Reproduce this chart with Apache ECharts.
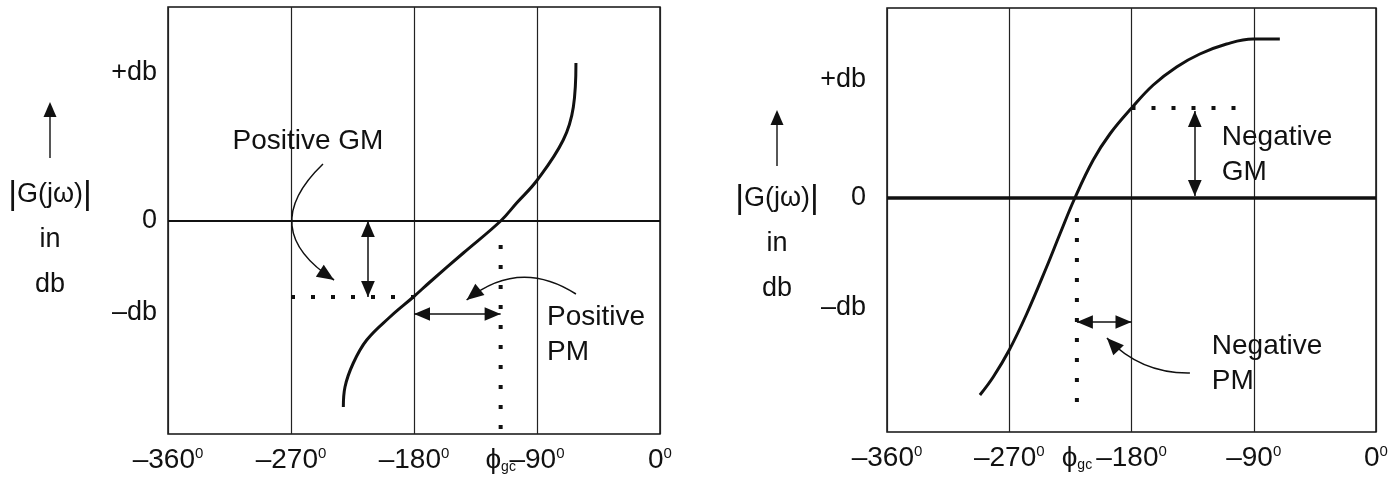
<!DOCTYPE html>
<html>
<head>
<meta charset="utf-8">
<title>Gain margin and phase margin on gain-phase plots</title>
<script src="https://cdn.jsdelivr.net/npm/echarts@6/dist/echarts.min.js"></script>
<style>
  html, body { margin: 0; padding: 0; background: #fff; }
  #chart { width: 1399px; height: 477px; }
</style>
</head>
<body>
<div id="chart"></div>
<script>
// phase axis (degrees), shared by both plots
const phaseTicks = [-360, -270, -180, -90, 0]

// left plot: stable system, positive GM and positive PM
const leftPhase = [-231.7, -230.5, -224.4, -214.6, -197.6, -180.5, -168.3, -143.9, -116.6, -104.9, -89.8, -70.8, -63.4, -61.5]
const leftMag = [-18.6, -16.6, -14.2, -11.9, -9.6, -7.6, -6.1, -3.2, 0, 1.8, 4.1, 8.1, 11.4, 15.8]
const leftPhiGc = -116.6
const leftDbLevels = [-9.2, 0, 14.8]
const leftGmDots = [[-270, -7.6], [-180, -7.6]]
const leftPmDots = [[leftPhiGc, -2.4], [leftPhiGc, -21.3]]
const leftGmArrow = [[-213.7, 0], [-213.7, -7.6]]
const leftPmArrow = [[-180, -9.3], [leftPhiGc, -9.3]]
const leftGmPointer = [[-246.6, 5.7], [-238.5, -5.9]]
const leftPmPointer = [[-61.5, -7.3], [-141.5, -7.9]]
const leftNotes = ['Positive GM', 'Positive\nPM']
const leftNoteAt = [[-257.6, 8.0], [-82.7, -11.4]]

// right plot: unstable system, negative GM and negative PM
const rightPhase = [-291.6, -281.8, -270, -257.2, -242.5, -232.7, -221.7, -208.2, -195.9, -179.9, -164.0, -146.8, -129.7, -110.0, -90.5, -70.8]
const rightMag = [-19.7, -17.9, -15.2, -11.6, -6.9, -3.6, 0, 3.8, 6.4, 9.0, 11.3, 13.1, 14.4, 15.4, 15.9, 15.9]
const rightPhiGc = -220.2
const rightDbLevels = [-11.0, 0, 11.8]
const rightGmDots = [[-180, 9.0], [-102.5, 9.0]]
const rightPmDots = [[rightPhiGc, -2.0], [rightPhiGc, -20.5]]
const rightGmArrow = [[-133.4, 8.7], [-133.4, 0.2]]
const rightPmArrow = [[rightPhiGc, -12.4], [-180, -12.4]]
const rightPmPointer = [[-137.0, -17.5], [-198.1, -14.0]]
const rightNotes = ['Negative\nGM', 'Negative\nPM']
const rightNoteAt = [[-113.5, 4.3], [-120.9, -16.6]]

const INK = '#111'
const FONT = '"Liberation Sans", Arial, Helvetica, sans-serif'

// filled arrow head whose tip sits at the centre of its box,
// so the tip lands exactly on the end point of the line
const HEAD = 'path://M0,0 M28,28 M14,14 L20,28 L8,28 Z'

const arrowSvg = "<svg xmlns='http://www.w3.org/2000/svg' width='14' height='56'>" +
  "<polygon points='7,0 0.5,15 13.5,15' fill='#111'/>" +
  "<rect x='6.3' y='12' width='1.4' height='44' fill='#111'/></svg>"
const arrowImg = 'data:image/svg+xml;charset=utf-8,' + encodeURIComponent(arrowSvg)

function zip(xs, ys) {
  return xs.map((x, i) => [x, ys[i]])
}

function phaseAxis(gridIndex, phiGc) {
  return {
    type: 'value',
    gridIndex,
    min: phaseTicks[0],
    max: phaseTicks[phaseTicks.length - 1],
    interval: 90,
    axisLine: { show: false },
    axisTick: { show: false },
    splitLine: { show: true, lineStyle: { color: '#222', width: 1.2 } },
    axisLabel: {
      customValues: phaseTicks.concat([phiGc]),
      margin: 12,
      formatter: (v) => {
        if (Math.abs(v - phiGc) < 1e-6) return '{phi|ϕ}{sub|gc}'
        return '{num|' + (v < 0 ? '–' + (-v) : v) + '}{deg|0}'
      },
      rich: {
        num: { fontSize: 28, fontFamily: FONT, color: INK },
        deg: { fontSize: 15, fontFamily: FONT, color: INK, verticalAlign: 'top' },
        phi: { fontSize: 28, fontFamily: FONT, color: INK },
        sub: { fontSize: 14, fontFamily: FONT, color: INK, verticalAlign: 'bottom' }
      }
    }
  }
}

function dbAxis(gridIndex, min, max, levels, margin) {
  return {
    type: 'value',
    gridIndex,
    min,
    max,
    axisLine: { show: false },
    axisTick: { show: false },
    splitLine: { show: false },
    axisLabel: {
      customValues: levels,
      margin,
      fontSize: 27,
      fontFamily: FONT,
      color: INK,
      formatter: (v) => (v > 0 ? '+db' : v < 0 ? '–db' : '0')
    }
  }
}

function plotSeries(idx, d) {
  const ax = { xAxisIndex: idx, yAxisIndex: idx }
  const dotted = (pts) => ({
    type: 'line', ...ax, data: pts, symbol: 'none', silent: true,
    lineStyle: { color: INK, width: 4, type: [4, 16] }
  })
  return [
    {
      type: 'line', ...ax, data: [[phaseTicks[0], 0], [phaseTicks[4], 0]], symbol: 'none', silent: true,
      lineStyle: { color: INK, width: d.zeroWidth }
    },
    {
      type: 'line', ...ax, data: zip(d.phase, d.mag), smooth: 0.4, symbol: 'none', silent: true,
      lineStyle: { color: INK, width: 3 }
    },
    dotted(d.gmDots),
    dotted(d.pmDots),
    {
      type: 'lines', coordinateSystem: 'cartesian2d', ...ax, silent: true,
      symbol: [HEAD, HEAD], symbolSize: 32,
      lineStyle: { color: INK, width: 1.5, opacity: 1 },
      data: [{ coords: d.gmArrow }, { coords: d.pmArrow }]
    },
    {
      type: 'lines', coordinateSystem: 'cartesian2d', ...ax, silent: true,
      symbol: ['none', HEAD], symbolSize: 34,
      lineStyle: { color: INK, width: 1.5, opacity: 1 },
      data: d.pointers
    },
    {
      type: 'scatter', ...ax, symbolSize: 0, silent: true,
      itemStyle: { opacity: 1 },
      data: d.notes.map((t, i) => ({ name: t, value: d.noteAt[i] })),
      label: {
        show: true, formatter: '{b}', position: [0, 0],
        align: 'left', verticalAlign: 'middle',
        fontSize: 28, lineHeight: 35, fontFamily: FONT, color: INK
      }
    }
  ]
}

const chart = echarts.init(document.getElementById('chart'))

const leftSeries = plotSeries(0, {
  phase: leftPhase, mag: leftMag, zeroWidth: 1.8,
  gmDots: leftGmDots, pmDots: leftPmDots,
  gmArrow: leftGmArrow, pmArrow: leftPmArrow,
  pointers: [
    { coords: leftGmPointer, lineStyle: { curveness: -0.63 } },
    { coords: leftPmPointer, lineStyle: { curveness: -0.36 } }
  ],
  notes: leftNotes, noteAt: leftNoteAt
})
// "Positive GM" is centred over its point
leftSeries[6].data[0].label = { align: 'center' }

const rightSeries = plotSeries(1, {
  phase: rightPhase, mag: rightMag, zeroWidth: 3.5,
  gmDots: rightGmDots, pmDots: rightPmDots,
  gmArrow: rightGmArrow, pmArrow: rightPmArrow,
  pointers: [
    { coords: rightPmPointer, lineStyle: { curveness: 0.22 } }
  ],
  notes: rightNotes, noteAt: rightNoteAt
})

const yTitle = (cx, arrowTop, textTop) => [
  {
    left: cx - 7, top: arrowTop, padding: 0,
    text: '{a|}',
    textStyle: { rich: { a: { width: 14, height: 56, backgroundColor: { image: arrowImg } } } }
  },
  {
    left: cx, top: textTop, padding: 0, textAlign: 'center',
    text: '{b||}{g|G(jω)}{b||}\n{g|in}\n{g|db}',
    textStyle: {
      fontWeight: 'normal',
      rich: {
        b: { fontSize: 34, fontFamily: FONT, fontWeight: 'normal', color: INK, lineHeight: 45 },
        g: { fontSize: 27, fontFamily: FONT, fontWeight: 'normal', color: INK, lineHeight: 45 }
      }
    }
  }
]

chart.setOption({
  animation: false,
  backgroundColor: '#fff',
  title: yTitle(50, 102, 172).concat(yTitle(777, 110, 176)),
  grid: [
    { left: 168, right: 739, top: 7, bottom: 43, show: true, borderColor: INK, borderWidth: 1.5, backgroundColor: '#fff' },
    { left: 887, right: 23, top: 8, bottom: 45, show: true, borderColor: INK, borderWidth: 1.5, backgroundColor: '#fff' }
  ],
  xAxis: [phaseAxis(0, leftPhiGc), phaseAxis(1, rightPhiGc)],
  yAxis: [
    dbAxis(0, -21.3, 21.4, leftDbLevels, 11),
    dbAxis(1, -23.4, 19.0, rightDbLevels, 21)
  ],
  series: leftSeries.concat(rightSeries)
})
</script>
</body>
</html>
